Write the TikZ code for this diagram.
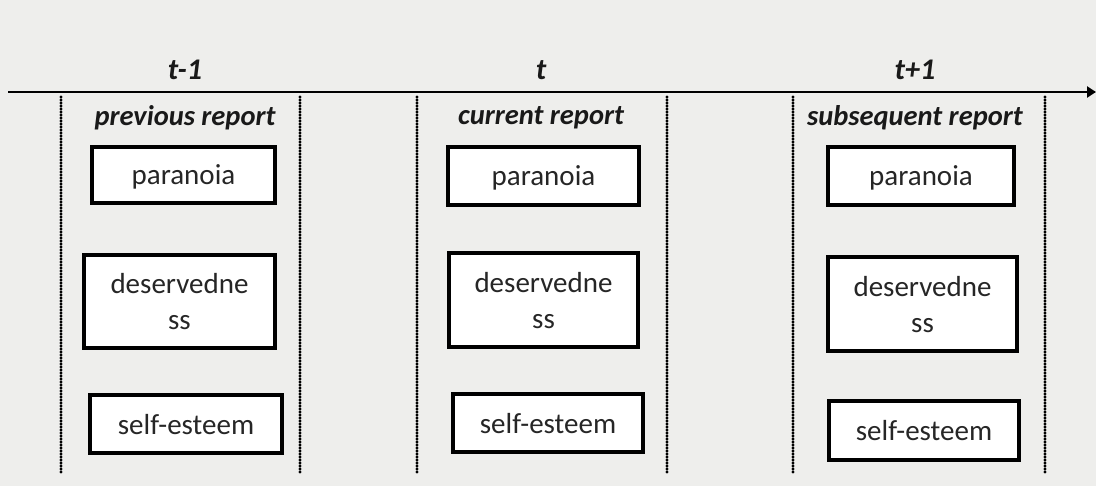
\documentclass[tikz,border=0pt]{standalone}
\usepackage{fontspec}
\setmainfont{Carlito}
\usetikzlibrary{arrows.meta}
\definecolor{paper}{rgb}{0.935,0.935,0.925}
\tikzset{
  varbox/.style={draw=black, line width=3.6pt, fill=white, inner sep=0pt,
    minimum width=#1, align=center, text=black!85, text depth=0pt,
    font=\fontsize{29}{36}\selectfont},
  timelabel/.style={font=\fontsize{30}{36}\selectfont\bfseries\itshape, text=black!90},
  reportlabel/.style={font=\fontsize{28.5}{34}\selectfont\bfseries\itshape, text=black!90},
  divider/.style={line width=3.3pt, line cap=round, dash pattern=on 0pt off 3pt},
  timeline/.style={line width=2.4pt, -{Triangle[length=9pt,width=11pt]}}
}
\begin{document}
\begin{tikzpicture}[x=1pt,y=-1pt]
  % canvas
  \fill[paper] (0,0) rectangle (1096,486);
  \useasboundingbox (0,0) rectangle (1096,486);

  % time axis
  \coordinate (axstart) at (8,92);
  \coordinate (axend) at (1096,92);
  \draw[timeline] (axstart) -- (axend);

  % time points
  \node[timelabel] (tprev) at (185,70) {t-1};
  \node[timelabel] (tcur) at (541,70) {t};
  \node[timelabel] (tnext) at (915,70) {t+1};

  % column dividers
  \foreach \name/\x in {d1/61, d2/300, d3/417, d4/667, d5/793, d6/1045} {
    \coordinate (\name top) at (\x,97);
    \coordinate (\name bot) at (\x,473);
    \draw[divider] (\name top) -- (\name bot);
  }

  % report headings
  \node[reportlabel] (hprev) at (185,118) {previous report};
  \node[reportlabel] (hcur) at (541,118) {current report};
  \node[reportlabel] (hnext) at (915,118) {subsequent report};

  % previous report
  \node[varbox=183pt, minimum height=56pt] (pprev) at (183.5,175) {paranoia};
  \node[varbox=191pt, minimum height=93pt] (dprev) at (179.5,301.5) {deservedne\\ss};
  \node[varbox=192pt, minimum height=58pt] (sprev) at (186,424) {self-esteem};

  % current report
  \node[varbox=191pt, minimum height=58pt] (pcur) at (543.5,176) {paranoia};
  \node[varbox=189pt, minimum height=94pt] (dcur) at (543.5,300) {deservedne\\ss};
  \node[varbox=190pt, minimum height=58pt] (scur) at (548,423) {self-esteem};

  % subsequent report
  \node[varbox=186pt, minimum height=58pt] (pnext) at (921,176) {paranoia};
  \node[varbox=189pt, minimum height=94pt] (dnext) at (922.5,304) {deservedne\\ss};
  \node[varbox=190pt, minimum height=59pt] (snext) at (924,430.5) {self-esteem};
\end{tikzpicture}
\end{document}
